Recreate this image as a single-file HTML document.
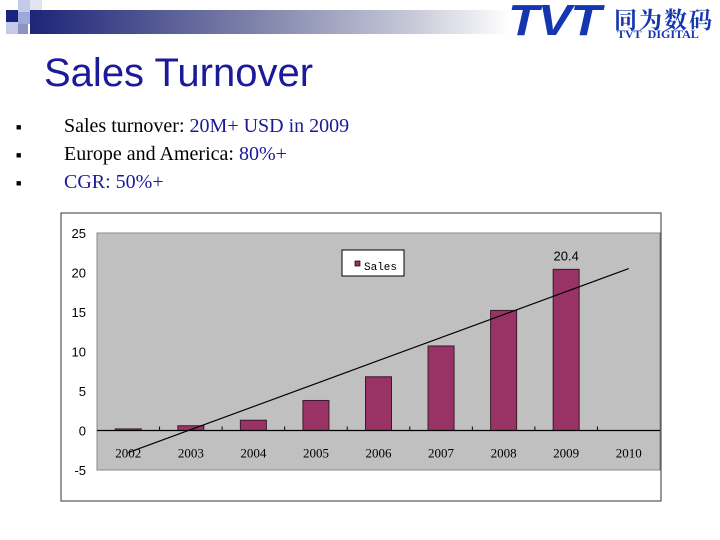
<!DOCTYPE html>
<html><head><meta charset="utf-8"><style>
body{margin:0;width:720px;height:540px;background:#fff;position:relative;overflow:hidden;font-family:"Liberation Serif",serif}
.abs{position:absolute}
</style></head><body>
<div class="abs">
<div class="abs" style="left:6px;top:10px;width:12px;height:12px;background:#1a237e"></div>
<div class="abs" style="left:18px;top:0;width:12px;height:12px;background:#c5cae9"></div>
<div class="abs" style="left:30px;top:0;width:12px;height:10px;background:#e0e3f0"></div>
<div class="abs" style="left:18px;top:12px;width:12px;height:12px;background:#9fa8da"></div>
<div class="abs" style="left:6px;top:22px;width:12px;height:12px;background:#c5cae9"></div>
<div class="abs" style="left:18px;top:24px;width:10px;height:10px;background:#8c93c0"></div>
</div>
<div class="abs" style="left:30px;top:10px;width:480px;height:24px;background:linear-gradient(90deg,#1e2478,#7a7fa8 45%,#c8cad8 80%,#fff)"></div>
<div class="abs" style="left:508px;top:-4px;font:italic bold 44px 'Liberation Sans',sans-serif;color:#1436b0;letter-spacing:-1px;transform:scaleX(1.15);transform-origin:left">TVT</div>
<div class="abs" style="left:614px;top:2px;font:bold 23px 'Noto Serif CJK SC',serif;color:#1436b0;letter-spacing:2px">同为数码</div>
<div class="abs" style="left:617px;top:27px;font:bold 12px 'Liberation Serif',serif;color:#1436b0">TVT&nbsp;&nbsp;DIGITAL</div>
<div class="abs" style="left:44px;top:51px;font:40px 'Liberation Sans',sans-serif;color:#1a1a9a">Sales Turnover</div>
<div class="abs" style="left:16px;top:113px;font-size:20px;line-height:27px">
<div><span style="font-size:9px;display:inline-block;width:48px;vertical-align:middle">■</span>Sales turnover: <span style="color:#1a1a9a">20M+ USD in 2009</span></div>
<div><span style="font-size:9px;display:inline-block;width:48px;vertical-align:middle">■</span>Europe and America: <span style="color:#1a1a9a">80%+</span></div>
<div><span style="font-size:9px;display:inline-block;width:48px;vertical-align:middle">■</span><span style="color:#1a1a9a">CGR: 50%+</span></div>
</div>
<svg class="abs" style="left:0;top:0" width="720" height="540" id="chart"></svg>
<script>
const categories=["2002","2003","2004","2005","2006","2007","2008","2009","2010"];
const sales=[0.2,0.6,1.3,3.8,6.8,10.7,15.2,20.4,0];
const yTicks=[25,20,15,10,5,0,-5];
const trendStart=-2.8, trendEnd=20.5;
const labelValue="20.4";
const NS="http://www.w3.org/2000/svg";
const svg=document.getElementById('chart');
const L=97,R=660,T=233,B=470,ymin=-5,ymax=25;
const bw=(R-L)/categories.length;
const y=v=>B-(v-ymin)/(ymax-ymin)*(B-T);
const x=i=>L+bw*(i+0.5);
function mk(t,a,txt){const e=document.createElementNS(NS,t);for(const k in a)e.setAttribute(k,a[k]);if(txt!==undefined)e.textContent=txt;svg.appendChild(e);return e;}
let e;
e=mk('rect',{x:61,y:213,width:600,height:288,fill:'#fff',stroke:'#333','stroke-width':1});


e=mk('rect',{x:L,y:T,width:R-L,height:B-T,fill:'#c0c0c0',stroke:'#888'});


yTicks.forEach(v=>{e=mk('text',{x:86,y:y(v)+5,'text-anchor':'end','font-family':'Liberation Sans,sans-serif','font-size':13},String(v));

});
sales.forEach((v,i)=>{const h=Math.abs(y(v)-y(0));e=mk('rect',{x:x(i)-13,y:Math.min(y(v),y(0)),width:26,height:h,fill:'#993366',stroke:'#3a1a2a','stroke-width':1});

});
e=mk('line',{x1:L,x2:R,y1:y(0),y2:y(0),stroke:'#000','stroke-width':1.2});


categories.forEach((c,i)=>{if(i>0){e=mk('line',{x1:L+bw*i,x2:L+bw*i,y1:y(0)-4,y2:y(0),stroke:'#000'});

}
e=mk('text',{x:x(i),y:y(0)+27,'text-anchor':'middle','font-family':'Liberation Serif,serif','font-size':13},c);

});
e=mk('line',{x1:x(0),y1:y(trendStart),x2:x(categories.length-1),y2:y(trendEnd),stroke:'#000','stroke-width':1.2});


e=mk('text',{x:x(7),y:y(sales[7])-9,'text-anchor':'middle','font-family':'Liberation Sans,sans-serif','font-size':13},labelValue);


e=mk('rect',{x:342,y:250,width:62,height:26,fill:'#fff',stroke:'#000'});


e=mk('rect',{x:355,y:261,width:5,height:5,fill:'#993366',stroke:'#000','stroke-width':0.7});


e=mk('text',{x:364,y:270,'font-family':'Liberation Mono,monospace','font-size':11},'Sales');


</script>
</body></html>
